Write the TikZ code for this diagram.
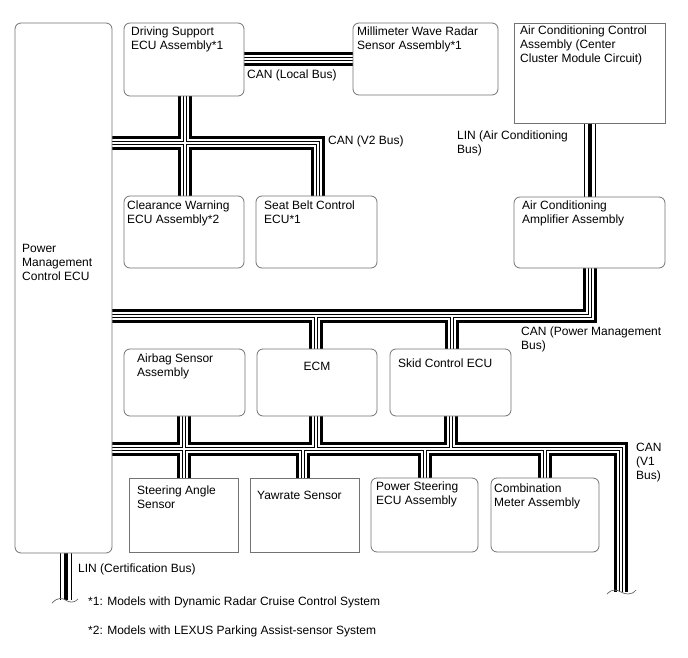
\documentclass[tikz,border=0pt]{standalone}
\usepackage{fontspec}
\setmainfont{Liberation Sans}
\usetikzlibrary{backgrounds}
\newcommand\canbus[1]{\foreach \w/\c in {14/black,8/white,4/black,2/white}{\draw[line width=\w pt,draw=\c,line join=miter] #1;}}
\newcommand\linbus[1]{\foreach \w/\c in {12/black,10/white,4/black}{\draw[line width=\w pt,draw=\c] #1;}}
\begin{document}
\begin{tikzpicture}[x=1pt,y=-1pt,
  box/.style={draw=black!55, line width=0.8pt, fill=white, rounded corners=6pt, inner sep=0pt, outer sep=0pt, anchor=north west},
  sbox/.style={box, rounded corners=0pt},
  txt/.style={anchor=north west, inner sep=0pt, align=left, font=\fontsize{12}{14}\selectfont},
  brk/.style={draw=black!60, line width=0.7pt}
]
\useasboundingbox (0,0) rectangle (688,658);
% boxes
\node[box, minimum width=97pt, minimum height=530pt] (pmc) at (15,23) {};
\node[box, minimum width=120pt, minimum height=73pt] (ds) at (124,23) {};
\node[box, minimum width=145pt, minimum height=72pt] (mwr) at (353,23) {};
\node[sbox, minimum width=151pt, minimum height=100pt] (acc) at (514,23) {};
\node[box, minimum width=151pt, minimum height=71pt] (aca) at (514,197) {};
\node[box, minimum width=120pt, minimum height=72pt] (cw) at (124,196) {};
\node[box, minimum width=121pt, minimum height=72pt] (sb) at (256,196) {};
\node[box, minimum width=121pt, minimum height=67pt] (air) at (124,349) {};
\node[box, minimum width=120pt, minimum height=67pt] (ecm) at (257,349) {};
\node[box, minimum width=121pt, minimum height=67pt] (skid) at (390,349) {};
\node[sbox, minimum width=109pt, minimum height=74pt] (sas) at (129,478) {};
\node[sbox, minimum width=109pt, minimum height=74pt] (yaw) at (250,478) {};
\node[box, minimum width=107pt, minimum height=74pt] (ps) at (371,478) {};
\node[box, minimum width=108pt, minimum height=74pt] (cm) at (491,478) {};
% junction coordinates
\coordinate (v2corner) at (318,143);
\coordinate (pmcorner) at (590,316);
\coordinate (pmecm) at (316,316);
\coordinate (pmskid) at (452,316);
\coordinate (v1corner) at (621,449);
\coordinate (v1end) at (621,592);
\coordinate (v1ecm) at (316,449);
\coordinate (v1skid) at (451,449);
\coordinate (v1yaw) at (303,449);
\coordinate (v1ps) at (425,449);
\coordinate (v1cm) at (545,449);
\coordinate (linend) at (65.5,600);
\begin{pgfonlayer}{background}
\canbus{(ds.east |- 0,59) -- (mwr.west |- 0,59)
  (pmc.east |- v2corner) -- (v2corner) -- (sb.north -| v2corner)
  (ds.south -| 185,0) -- (cw.north -| 185,0)
  (aca.south -| pmcorner) -- (pmcorner) -- (pmc.east |- pmcorner)
  (pmecm) -- (ecm.north -| pmecm)
  (pmskid) -- (skid.north -| pmskid)
  (pmc.east |- v1corner) -- (v1corner) -- (v1end)
  (air.south -| 184,0) -- (sas.north -| 184,0)
  (ecm.south -| v1ecm) -- (v1ecm)
  (skid.south -| v1skid) -- (v1skid)
  (v1yaw) -- (yaw.north -| v1yaw)
  (v1ps) -- (ps.north -| v1ps)
  (v1cm) -- (cm.north -| v1cm)}
\linbus{(acc.south -| 590,0) -- (aca.north -| 590,0)
  (pmc.south -| linend) -- (linend)}
\end{pgfonlayer}
% break marks
\draw[brk] (607,594) .. controls (613,588) and (617,590) .. (621,592) .. controls (625,594) and (631,596) .. (636,590);
\draw[brk] (52,603) .. controls (58,597) and (62,598) .. (65.5,600) .. controls (69,602) and (73,604) .. (78,599);
% texts
\node[txt] (pmcT) at (22,244) {Power\\Management\\Control ECU};
\node[txt] (dsT) at (131,27) {Driving Support\\ECU Assembly*1};
\node[txt] (mwrT) at (357,27) {Millimeter Wave Radar\\Sensor Assembly*1};
\node[txt] (accT) at (520,26) {Air Conditioning Control\\Assembly (Center\\Cluster Module Circuit)};
\node[txt] (linacT) at (457,131) {LIN (Air Conditioning\\Bus)};
\node[txt] (v2T) at (328,136) {CAN (V2 Bus)};
\node[txt] (localT) at (247,70) {CAN (Local Bus)};
\node[txt] (cwT) at (127,201) {Clearance Warning\\ECU Assembly*2};
\node[txt] (sbT) at (264,201) {Seat Belt Control\\ECU*1};
\node[txt] (acaT) at (522,201) {Air Conditioning\\Amplifier Assembly};
\node[txt] (pmT) at (521,327) {CAN (Power Management\\Bus)};
\node[txt] (airT) at (137,354) {Airbag Sensor\\Assembly};
\node[txt, anchor=north] (ecmT) at (317,362) {ECM};
\node[txt] (skidT) at (398,359) {Skid Control ECU};
\node[txt] (v1T) at (636,443) {CAN\\(V1\\Bus)};
\node[txt] (sasT) at (137,486) {Steering Angle\\Sensor};
\node[txt] (yawT) at (257,491) {Yawrate Sensor};
\node[txt] (psT) at (376,482) {Power Steering\\ECU Assembly};
\node[txt] (cmT) at (494,484) {Combination\\Meter Assembly};
\node[txt] (linT) at (78,564) {LIN (Certification Bus)};
\node[txt] (n1) at (88,597) {*1: Models with Dynamic Radar Cruise Control System};
\node[txt] (n2) at (88,626) {*2: Models with LEXUS Parking Assist-sensor System};
\end{tikzpicture}
\end{document}
